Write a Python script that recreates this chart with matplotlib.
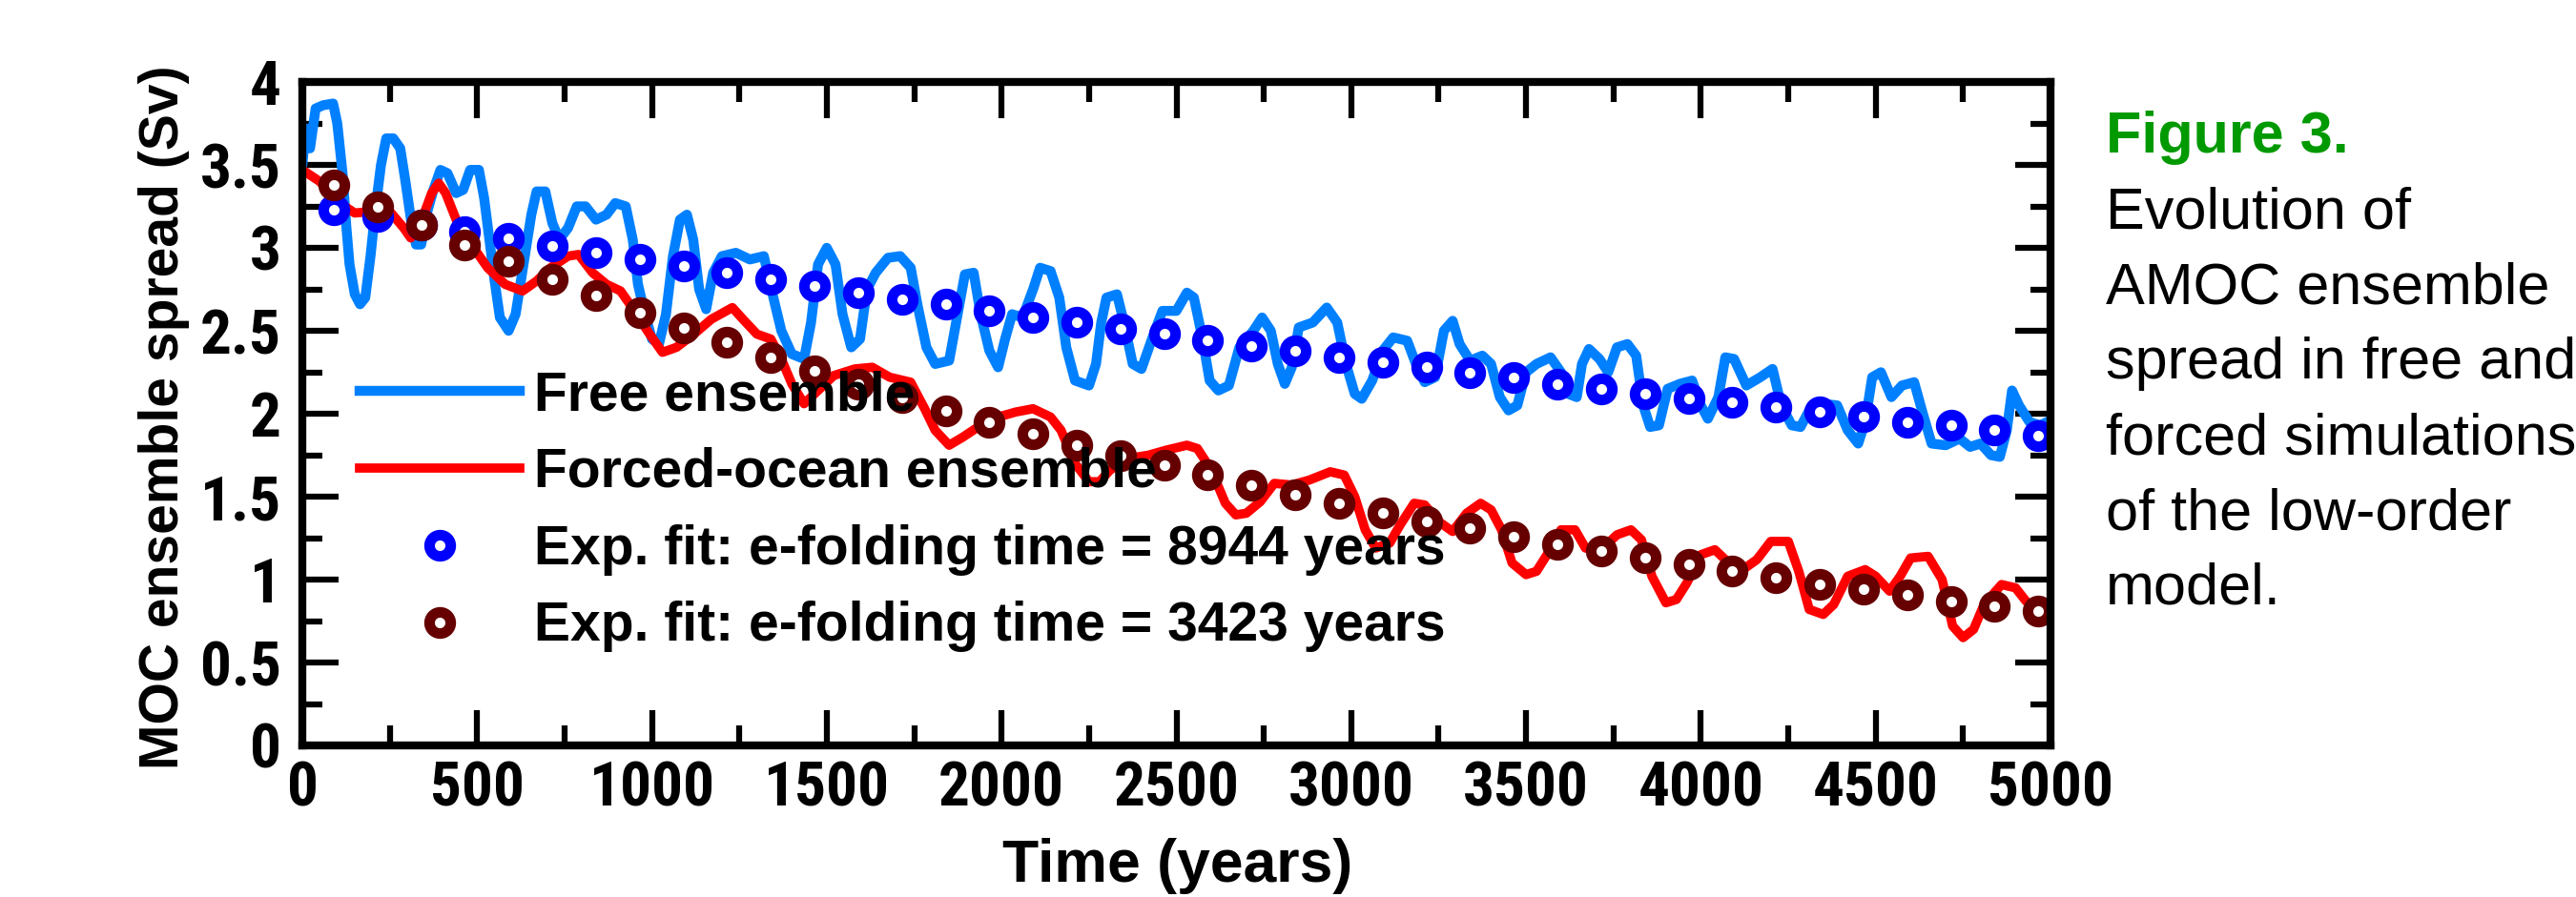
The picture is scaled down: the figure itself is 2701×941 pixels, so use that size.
import numpy as np
import matplotlib
matplotlib.use('Agg')
import matplotlib.pyplot as plt
from matplotlib import font_manager as fm
from matplotlib.ticker import MultipleLocator

plt.rcParams['font.family'] = ['Liberation Sans', 'DejaVu Sans']

# free ensemble spread (years, Sv)
free_t = [0, 10, 22, 38, 60, 88, 100, 115, 125, 135,
          150, 165, 180, 195, 210, 225, 240, 260, 280, 295,
          310, 325, 340, 355, 375, 395, 415, 440, 460, 480,
          505, 520, 535, 550, 565, 590, 610, 625, 640, 655,
          670, 695, 715, 735, 760, 785, 810, 840, 870, 895,
          925, 945, 960, 980, 1000, 1020, 1040, 1060, 1080, 1100,
          1118, 1135, 1155, 1175, 1200, 1240, 1280, 1320, 1345, 1370,
          1400, 1435, 1455, 1475, 1500, 1525, 1545, 1570, 1595, 1615,
          1640, 1675, 1710, 1740, 1760, 1785, 1810, 1850, 1870, 1895,
          1920, 1940, 1965, 1990, 2010, 2030, 2060, 2090, 2110, 2140,
          2165, 2185, 2210, 2250, 2270, 2285, 2300, 2330, 2350, 2375,
          2400, 2430, 2460, 2500, 2530, 2550, 2575, 2595, 2620, 2650,
          2680, 2720, 2745, 2770, 2790, 2810, 2830, 2850, 2890, 2930,
          2960, 2985, 3010, 3030, 3060, 3090, 3120, 3160, 3185, 3210,
          3240, 3265, 3290, 3310, 3340, 3375, 3400, 3425, 3450, 3475,
          3500, 3530, 3570, 3600, 3620, 3645, 3660, 3680, 3710, 3735,
          3760, 3790, 3815, 3835, 3855, 3880, 3905, 3940, 3975, 4000,
          4020, 4050, 4070, 4095, 4130, 4170, 4205, 4230, 4260, 4285,
          4310, 4350, 4390, 4420, 4450, 4470, 4490, 4515, 4545, 4575,
          4610, 4635, 4660, 4700, 4740, 4770, 4800, 4830, 4855, 4875,
          4890, 4910, 4940, 4970, 5000]
free_v = [3.50, 3.72, 3.60, 3.84, 3.86, 3.87, 3.75, 3.45, 3.15, 2.90,
          2.72, 2.66, 2.70, 2.95, 3.25, 3.50, 3.66, 3.66, 3.60, 3.40,
          3.18, 3.02, 3.02, 3.20, 3.35, 3.47, 3.45, 3.33, 3.35, 3.47,
          3.47, 3.30, 3.05, 2.80, 2.58, 2.50, 2.60, 2.80, 3.00, 3.20,
          3.34, 3.34, 3.15, 3.05, 3.12, 3.25, 3.25, 3.17, 3.20, 3.27,
          3.25, 3.05, 2.78, 2.60, 2.45, 2.42, 2.60, 2.95, 3.17, 3.20,
          3.05, 2.75, 2.63, 2.85, 2.95, 2.97, 2.93, 2.95, 2.72, 2.50,
          2.36, 2.33, 2.55, 2.90, 3.00, 2.90, 2.60, 2.40, 2.45, 2.75,
          2.85, 2.94, 2.95, 2.88, 2.65, 2.40, 2.30, 2.32, 2.55, 2.84,
          2.85, 2.60, 2.38, 2.28, 2.45, 2.60, 2.58, 2.75, 2.88, 2.86,
          2.70, 2.40, 2.20, 2.17, 2.30, 2.55, 2.70, 2.72, 2.55, 2.30,
          2.27, 2.45, 2.62, 2.62, 2.73, 2.70, 2.45, 2.20, 2.14, 2.17,
          2.40, 2.50, 2.58, 2.50, 2.30, 2.18, 2.28, 2.52, 2.55, 2.64,
          2.55, 2.30, 2.12, 2.09, 2.20, 2.38, 2.46, 2.44, 2.30, 2.19,
          2.22, 2.50, 2.56, 2.42, 2.32, 2.35, 2.30, 2.10, 2.02, 2.05,
          2.25, 2.30, 2.34, 2.25, 2.12, 2.10, 2.30, 2.39, 2.33, 2.25,
          2.40, 2.42, 2.35, 2.05, 1.92, 1.93, 2.15, 2.18, 2.20, 2.05,
          1.97, 2.10, 2.34, 2.33, 2.17, 2.22, 2.27, 2.05, 1.93, 1.92,
          2.02, 2.06, 2.05, 1.90, 1.82, 1.95, 2.22, 2.25, 2.10, 2.17,
          2.19, 2.00, 1.82, 1.81, 1.85, 1.80, 1.82, 1.75, 1.74, 1.90,
          2.14, 2.05, 1.95, 1.93, 1.96]

# forced-ocean ensemble spread
forced_t = [0, 50, 100, 150, 200, 250, 290, 310, 340, 370,
            390, 410, 440, 490, 530, 580, 630, 670, 710, 760,
            790, 830, 870, 910, 950, 990, 1030, 1070, 1120, 1170,
            1230, 1260, 1300, 1340, 1370, 1400, 1435, 1470, 1520, 1580,
            1630, 1680, 1740, 1780, 1810, 1850, 1890, 1940, 1990, 2040,
            2090, 2140, 2170, 2210, 2250, 2280, 2310, 2360, 2420, 2470,
            2530, 2560, 2600, 2640, 2670, 2700, 2740, 2780, 2830, 2880,
            2940, 2980, 3010, 3040, 3070, 3110, 3140, 3180, 3210, 3250,
            3290, 3330, 3370, 3400, 3430, 3460, 3500, 3530, 3560, 3600,
            3640, 3670, 3710, 3760, 3800, 3830, 3860, 3900, 3930, 3960,
            4000, 4040, 4080, 4120, 4160, 4200, 4250, 4280, 4310, 4350,
            4380, 4420, 4470, 4500, 4540, 4570, 4600, 4650, 4690, 4720,
            4750, 4780, 4810, 4860, 4900, 4930, 4970, 5000]
forced_v = [3.47, 3.40, 3.28, 3.21, 3.22, 3.22, 3.12, 3.06, 3.16, 3.33,
            3.39, 3.33, 3.17, 3.00, 2.88, 2.78, 2.74, 2.80, 2.88, 2.95,
            2.96, 2.85, 2.78, 2.74, 2.62, 2.49, 2.37, 2.40, 2.48, 2.57,
            2.64, 2.57, 2.48, 2.45, 2.33, 2.18, 2.06, 2.13, 2.23, 2.27,
            2.28, 2.22, 2.19, 2.03, 1.90, 1.81, 1.86, 1.93, 1.98, 2.01,
            2.03, 1.98, 1.90, 1.70, 1.59, 1.59, 1.66, 1.73, 1.75, 1.78,
            1.81, 1.79, 1.66, 1.46, 1.39, 1.40, 1.47, 1.58, 1.57, 1.60,
            1.65, 1.63, 1.50, 1.30, 1.19, 1.22, 1.33, 1.46, 1.45, 1.35,
            1.29, 1.40, 1.46, 1.42, 1.30, 1.10, 1.03, 1.05, 1.15, 1.30,
            1.30, 1.19, 1.17, 1.27, 1.30, 1.24, 1.02, 0.86, 0.88, 0.98,
            1.15, 1.18, 1.10, 1.06, 1.12, 1.23, 1.23, 1.05, 0.82, 0.79,
            0.85, 1.02, 1.06, 1.02, 0.93, 1.02, 1.13, 1.14, 1.00, 0.72,
            0.65, 0.70, 0.85, 0.97, 0.95, 0.87, 0.80, 0.79]

# exponential-fit markers
fit_t = [90, 215, 340, 465, 590, 715, 840, 965, 1090, 1215,
         1340, 1465, 1590, 1715, 1840, 1965, 2090, 2215, 2340, 2465,
         2590, 2715, 2840, 2965, 3090, 3215, 3340, 3465, 3590, 3715,
         3840, 3965, 4090, 4215, 4340, 4465, 4590, 4715, 4840, 4965]
fit_free = [3.23, 3.19, 3.14, 3.10, 3.06, 3.01, 2.97, 2.93, 2.89, 2.85,
            2.81, 2.77, 2.73, 2.69, 2.66, 2.62, 2.58, 2.55, 2.51, 2.48,
            2.44, 2.41, 2.38, 2.34, 2.31, 2.28, 2.25, 2.22, 2.18, 2.15,
            2.12, 2.09, 2.07, 2.04, 2.01, 1.98, 1.95, 1.93, 1.90, 1.87]
fit_forced = [3.38, 3.25, 3.14, 3.02, 2.92, 2.81, 2.71, 2.61, 2.52, 2.43,
              2.34, 2.26, 2.18, 2.10, 2.02, 1.95, 1.88, 1.81, 1.75, 1.69,
              1.63, 1.57, 1.51, 1.46, 1.40, 1.35, 1.31, 1.26, 1.21, 1.17,
              1.13, 1.09, 1.05, 1.01, 0.97, 0.94, 0.91, 0.87, 0.84, 0.81]

labels = ['Free ensemble', 'Forced-ocean ensemble',
          'Exp. fit: e-folding time = 8944 years',
          'Exp. fit: e-folding time = 3423 years']
x_ticks = [0, 500, 1000, 1500, 2000, 2500, 3000, 3500, 4000, 4500, 5000]
y_ticks = [0, 0.5, 1, 1.5, 2, 2.5, 3, 3.5, 4]
y_tick_labels = ['0', '0.5', '1', '1.5', '2', '2.5', '3', '3.5', '4']
caption_title = 'Figure 3.'
caption_lines = ['Evolution of', 'AMOC ensemble', 'spread in free and',
                 'forced simulations', 'of the low-order', 'model.']

# tick labels in the original are a narrow bold face; use one if installed
installed = {f.name for f in fm.fontManager.ttflist}
tick_family, tick_size = ['Liberation Sans', 'DejaVu Sans'], 44
for name in ['Liberation Sans Narrow', 'Roboto Condensed', 'Open Sans Condensed']:
    if name in installed:
        tick_family, tick_size = [name, 'DejaVu Sans'], 47
        break

W, H = 2701, 941
fig = plt.figure(figsize=(W / 100, H / 100), dpi=100)
ax = fig.add_axes([317 / W, 1 - 782 / H, 1833 / W, 696 / H])

ax.plot(free_t, free_v, color='#0080ff', lw=7.5, label=labels[0])
ax.plot(forced_t, forced_v, color='#ff0000', lw=7, label=labels[1])
ax.plot(fit_t, fit_free, 'o', ls='none', color='#0000ff', mfc='white', ms=16, mew=8, label=labels[2])
ax.plot(fit_t, fit_forced, 'o', ls='none', color='#660000', mfc='white', ms=16, mew=8, label=labels[3])

ax.set_xlim(0, 5000)
ax.set_ylim(0, 4)
ax.set_xticks(x_ticks)
ax.set_xticklabels([str(v) for v in x_ticks])
ax.set_yticks(y_ticks)
ax.set_yticklabels(y_tick_labels)
ax.xaxis.set_minor_locator(MultipleLocator(250))
ax.yaxis.set_minor_locator(MultipleLocator(0.25))
ax.tick_params(which='both', direction='in', top=True, right=True, width=4.5, colors='black')
ax.tick_params(which='major', length=27)
ax.tick_params(which='minor', length=15)
ax.tick_params(axis='x', pad=11)
ax.tick_params(axis='y', pad=16)
for lbl in ax.get_xticklabels() + ax.get_yticklabels():
    lbl.set_fontweight('bold')
    lbl.set_fontfamily(tick_family)
    lbl.set_fontsize(tick_size)
for sp in ax.spines.values():
    sp.set_linewidth(6)

fig.text(172 / W, 1 - 438 / H, 'MOC ensemble spread (Sv)', rotation=90,
         fontsize=41, fontweight='bold', ha='center', va='center')
fig.text(1235 / W, 16 / H, 'Time (years)', fontsize=45, fontweight='bold',
         ha='center', va='baseline')

leg = ax.legend(loc='center left', bbox_to_anchor=(0.033, 0.353), frameon=False,
                prop={'size': 41, 'weight': 'bold'}, handlelength=2.95,
                handletextpad=0.25, labelspacing=0.47, borderpad=0,
                borderaxespad=0, numpoints=1)

fig.text(2208 / W, 1 - 160 / H, caption_title, color='#009900', fontsize=44,
         fontweight='bold', va='baseline')
for i, line in enumerate(caption_lines):
    fig.text(2208 / W, 1 - (239 + 79 * i) / H, line, color='black', fontsize=44,
             va='baseline')

fig.savefig('out.png', dpi=100)
